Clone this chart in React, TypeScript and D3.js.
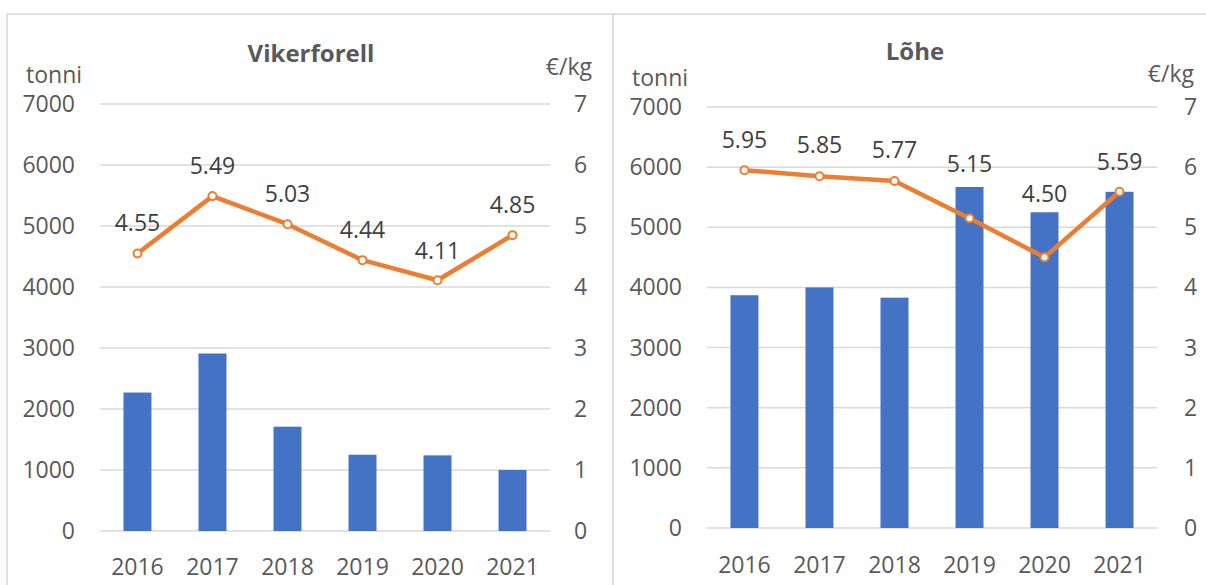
import * as d3 from "d3";

const years = ["2016", "2017", "2018", "2019", "2020", "2021"];

// Vikerforell
const troutTonnes = [2270, 2910, 1710, 1250, 1240, 1000];
const troutPrice = [4.55, 5.49, 5.03, 4.44, 4.11, 4.85];

// Lõhe
const salmonTonnes = [3870, 4000, 3830, 5670, 5250, 5590];
const salmonPrice = [5.95, 5.85, 5.77, 5.15, 4.5, 5.59];

const leftTicks = [0, 1000, 2000, 3000, 4000, 5000, 6000, 7000];
const rightTicks = [0, 1, 2, 3, 4, 5, 6, 7];

const FONT = "'Open Sans', 'Noto Sans', sans-serif";
const TEXT = "#595959";
const LABEL = "#404040";
const GRID = "#d9d9d9";
const BAR = "#4472c4";
const LINE = "#ed7d31";
const FS = 23;

function Panel({ title, tonnes, price, box, plot, layout, labelLift }) {
  const x = d3.scaleBand().domain(years).range([plot.left, plot.right]).paddingInner(0.627).paddingOuter(0.313);
  const yL = d3.scaleLinear().domain([0, 7000]).range([plot.bottom, plot.top]);
  const yR = d3.scaleLinear().domain([0, 7]).range([plot.bottom, plot.top]);
  const cx = (yr) => x(yr) + x.bandwidth() / 2;

  const pts = years.map((yr, i) => ({ yr, v: price[i], lift: labelLift[i] }));
  const line = d3
    .line()
    .x((d) => cx(d.yr))
    .y((d) => yR(d.v));

  return (
    <g>
      <rect x={box.x} y={box.y} width={box.w} height={box.h} fill="white" stroke={GRID} strokeWidth={1.5} />
      <text x={layout.titleX} y={layout.titleY} textAnchor="middle" fontSize={24} fontWeight="bold" fill={TEXT}>
        {title}
      </text>
      <text x={layout.tonniX} y={layout.tonniY} fontSize={FS} fill={TEXT}>
        tonni
      </text>
      <text x={layout.eurX} y={layout.eurY} textAnchor="end" fontSize={FS} fill={TEXT}>
        €/kg
      </text>

      {leftTicks.map((t) => (
        <g key={`g-${t}`}>
          <line x1={plot.left} x2={plot.right} y1={yL(t)} y2={yL(t)} stroke={GRID} strokeWidth={1.5} />
          <text x={plot.left - 25} y={yL(t)} dy="0.35em" textAnchor="end" fontSize={FS} fill={TEXT}>
            {t}
          </text>
        </g>
      ))}
      {rightTicks.map((t) => (
        <text key={`r-${t}`} x={plot.right + layout.rightGap} y={yR(t)} dy="0.35em" fontSize={FS} fill={TEXT}>
          {t}
        </text>
      ))}

      {years.map((yr, i) => (
        <rect
          key={`b-${yr}`}
          x={x(yr)}
          y={yL(tonnes[i])}
          width={x.bandwidth()}
          height={plot.bottom - yL(tonnes[i])}
          fill={BAR}
        />
      ))}

      {years.map((yr) => (
        <text key={`x-${yr}`} x={cx(yr)} y={layout.xLabelY} textAnchor="middle" fontSize={FS} fill={TEXT}>
          {yr}
        </text>
      ))}

      <path d={line(pts) ?? ""} fill="none" stroke={LINE} strokeWidth={4.5} strokeLinejoin="round" />
      {pts.map((p) => (
        <g key={`p-${p.yr}`}>
          <circle cx={cx(p.yr)} cy={yR(p.v)} r={4} fill="white" stroke={LINE} strokeWidth={2} />
          <text x={cx(p.yr)} y={yR(p.v) - p.lift} textAnchor="middle" fontSize={FS} fill={LABEL}>
            {p.v.toFixed(2)}
          </text>
        </g>
      ))}
    </g>
  );
}

export default function App() {
  return (
    <svg
      width={1206}
      height={585}
      style={{ position: "absolute", left: 0, top: 0, fontFamily: FONT }}
    >
      <rect width={1206} height={585} fill="white" />
      <Panel
        title="Vikerforell"
        tonnes={troutTonnes}
        price={troutPrice}
        labelLift={[22, 22, 22, 22, 21, 22]}
        box={{ x: 7, y: 14, w: 606, h: 600 }}
        plot={{ left: 100, right: 550, top: 104, bottom: 531 }}
        layout={{ titleX: 311, titleY: 62, tonniX: 26, tonniY: 83, eurX: 592, eurY: 75, xLabelY: 575, rightGap: 24 }}
      />
      <Panel
        title="Lõhe"
        tonnes={salmonTonnes}
        price={salmonPrice}
        labelLift={[22, 23, 23, 46, 55, 22]}
        box={{ x: 613, y: 14, w: 620, h: 600 }}
        plot={{ left: 707, right: 1157, top: 107, bottom: 528 }}
        layout={{ titleX: 915, titleY: 60, tonniX: 632, tonniY: 86, eurX: 1194, eurY: 82, xLabelY: 573, rightGap: 27 }}
      />
    </svg>
  );
}
